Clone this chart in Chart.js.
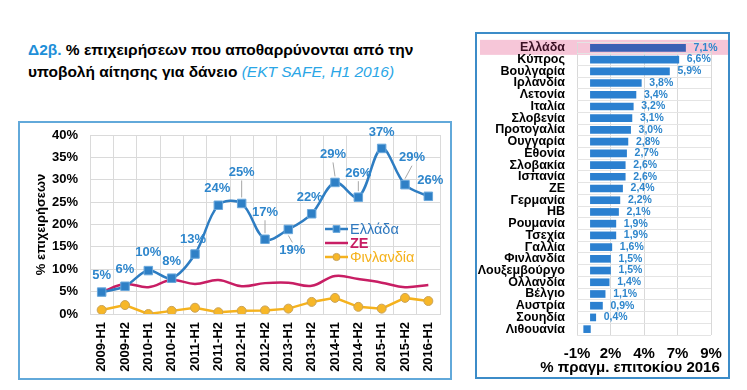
<!DOCTYPE html>
<html>
<head>
<meta charset="utf-8">
<script src="https://cdn.jsdelivr.net/npm/chart.js@4.4.1/dist/chart.umd.min.js"></script>
<style>
  body { margin: 0; background: #fff; font-family: "Liberation Sans", Arial, sans-serif; }
  #title { position: absolute; left: 28px; top: 39px; font-weight: bold; font-size: 15.5px; line-height: 22px; color: #000; white-space: nowrap; }
  #title .code { color: #1e8fd8; }
  #title .src { color: #2aa6e6; font-style: italic; font-weight: normal; }
  .box { position: absolute; box-sizing: border-box; border: 2px solid #62a9da; background: #fff; }
  #leftBox { left: 18px; top: 121px; width: 434px; height: 259px; }
  #rightBox { left: 475px; top: 32px; width: 255px; height: 347px; border-color: #3c8cc8; }
  .box canvas { position: absolute; left: 0; top: 0; }
</style>
</head>
<body>
<div id="title"><span class="code">Δ2β.</span> % επιχειρήσεων που αποθαρρύνονται από την<br>υποβολή αίτησης για δάνειο <span class="src">(EKT SAFE, H1 2016)</span></div>
<div class="box" id="leftBox"><canvas id="lineChart" width="430" height="255"></canvas></div>
<div class="box" id="rightBox"><canvas id="barChart" width="251" height="343"></canvas></div>

<script>
// Left chart data (% of firms discouraged from applying for a loan)
const periods = ['2009-H1', '2009-H2', '2010-H1', '2010-H2', '2011-H1', '2011-H2', '2012-H1', '2012-H2',
                 '2013-H1', '2013-H2', '2014-H1', '2014-H2', '2015-H1', '2015-H2', '2016-H1'];
const greece = [4.9, 6.2, 9.7, 8.0, 13.4, 24.3, 24.7, 16.7, 18.9, 22.4, 29.4, 26.1, 37.0, 28.9, 26.3];
const eurozone = [4.9, 6.7, 6.0, 7.6, 6.7, 7.6, 6.2, 6.9, 7.0, 6.3, 8.5, 7.8, 7.0, 6.0, 6.5];
const finland = [0.9, 2.0, 0.0, 0.7, 1.4, 0.4, 0.7, 0.8, 1.2, 2.7, 3.6, 1.6, 1.2, 3.6, 2.9];
const yTicks = { min: 0, max: 40, step: 5 };

// Right chart data (real interest rate 2016, %)
const countries = ['Ελλάδα', 'Κύπρος', 'Βουλγαρία', 'Ιρλανδία', 'Λετονία', 'Ιταλία', 'Σλοβενία', 'Προτογαλία',
                   'Ουγγαρία', 'Εθονία', 'Σλοβακία', 'Ισπανία', 'ΖΕ', 'Γερμανία', 'ΗΒ', 'Ρουμανία', 'Τσεχία',
                   'Γαλλία', 'Φινλανδία', 'Λουξεμβούργο', 'Ολλανδία', 'Βέλγιο', 'Αυστρία', 'Σουηδία', 'Λιθουανία'];
const rates = [7.1, 6.6, 5.9, 3.8, 3.4, 3.2, 3.1, 3.0, 2.8, 2.7, 2.6, 2.6, 2.4, 2.2, 2.1, 1.9, 1.9,
               1.6, 1.5, 1.5, 1.4, 1.1, 0.9, 0.4, -0.5];
const rateTicks = { min: -1, max: 9, step: 2.5 };

const FONT = "'Liberation Sans', Arial, sans-serif";
const BLUE = '#2e7dc2';
const LABEL_BLUE = '#2e86cc';
const RED = '#c81e64';
const GOLD = '#f5b21d';

// Greek decimal comma
function pct(v, digits) {
    return v.toFixed(digits).replace('.', ',') + '%';
}

// Stop the axis label overhang from shrinking the plot area
function noOverhang(scale) {
    scale.paddingTop = 0;
    scale.paddingBottom = 0;
    scale.paddingLeft = 0;
    scale.paddingRight = 0;
}

// Labels above the Greece points, with leader lines where they sit far away
const pointLabels = {
    id: 'pointLabels',
    afterDatasetsDraw(chart, args, opts) {
        const ctx = chart.ctx;
        const meta = chart.getDatasetMeta(0);
        ctx.save();
        ctx.font = opts.font;
        ctx.textAlign = 'center';
        ctx.textBaseline = 'middle';
        meta.data.forEach((pt, i) => {
            const off = opts.offsets[i];
            const x = pt.x + off[0];
            const y = pt.y + off[1];
            if (Math.abs(off[1]) > 20) {
                const dir = off[1] < 0 ? 1 : -1;
                ctx.strokeStyle = '#a6a6a6';
                ctx.lineWidth = 1;
                ctx.beginPath();
                ctx.moveTo(x, y + dir * 8);
                ctx.lineTo(pt.x, pt.y - dir * 6);
                ctx.stroke();
            }
            ctx.fillStyle = opts.color;
            ctx.fillText(Math.round(greece[i]) + '%', x, y);
        });
        ctx.restore();
    }
};

// Legend drawn inside the plot area
const insideLegend = {
    id: 'insideLegend',
    afterDraw(chart, args, opts) {
        const ctx = chart.ctx;
        const area = chart.chartArea;
        ctx.save();
        ctx.textBaseline = 'middle';
        ctx.textAlign = 'left';
        chart.data.datasets.forEach((ds, i) => {
            const x = area.left + opts.x;
            const y = area.top + opts.y + i * opts.spacing;
            ctx.strokeStyle = ds.borderColor;
            ctx.lineWidth = 2.5;
            ctx.beginPath();
            ctx.moveTo(x, y);
            ctx.lineTo(x + opts.lineWidth, y);
            ctx.stroke();
            if (ds.pointRadius > 0) {
                ctx.fillStyle = ds.pointBackgroundColor;
                ctx.strokeStyle = ds.pointBorderColor;
                ctx.lineWidth = ds.pointBorderWidth;
                Chart.helpers.drawPoint(ctx, {
                    pointStyle: ds.pointStyle,
                    radius: ds.pointRadius * opts.markerScale,
                    borderWidth: ds.pointBorderWidth
                }, x + opts.lineWidth / 2, y);
            }
            ctx.font = (ds.legendBold ? 'bold ' : '') + opts.fontSize + 'px ' + FONT;
            ctx.fillStyle = ds.legendColor || ds.borderColor;
            ctx.fillText(ds.label, x + opts.lineWidth + 2, y + 1);
        });
        ctx.restore();
    }
};

new Chart(document.getElementById('lineChart'), {
    type: 'line',
    data: {
        labels: periods,
        datasets: [{
            label: 'Ελλάδα',
            data: greece,
            borderColor: BLUE,
            borderWidth: 2.5,
            tension: 0.35,
            pointStyle: 'rect',
            pointRadius: 6,
            pointBackgroundColor: '#2f80c6',
            pointBorderColor: '#6aa8dc',
            pointBorderWidth: 1,
            legendColor: '#2f78be'
        }, {
            label: 'ΖΕ',
            data: eurozone,
            borderColor: RED,
            borderWidth: 2.5,
            tension: 0.4,
            pointRadius: 0,
            legendBold: true
        }, {
            label: 'Φινλανδία',
            data: finland,
            borderColor: GOLD,
            borderWidth: 2.5,
            tension: 0,
            pointStyle: 'circle',
            pointRadius: 4.5,
            pointBackgroundColor: '#f7b728',
            pointBorderColor: '#c9a35a',
            pointBorderWidth: 1
        }]
    },
    options: {
        responsive: false,
        animation: false,
        layout: { autoPadding: false, padding: { top: 12, right: 10, left: 0, bottom: 0 } },
        plugins: {
            legend: { display: false },
            tooltip: { enabled: false },
            pointLabels: {
                font: 'bold 13px ' + FONT,
                color: LABEL_BLUE,
                offsets: [[0, -17], [0, -17], [0, -18], [0, -17], [-2, -15], [-1, -17], [0, -31], [0, -27],
                          [4, 21], [-2, -16], [-2, -28], [0, -24], [0, -16], [7, -27], [2, -16]]
            },
            insideLegend: { x: 235, y: 94, spacing: 14, lineWidth: 23, fontSize: 14.5, markerScale: 0.8 }
        },
        scales: {
            x: {
                offset: true,
                grid: { offset: true, color: '#dadada', drawTicks: false },
                border: { color: '#dadada' },
                ticks: {
                    autoSkip: false, minRotation: 90, maxRotation: 90, padding: 8, color: '#000',
                    font: { family: FONT, size: 13, weight: 'bold' }
                },
                afterFit(scale) { noOverhang(scale); scale.height = 64; }
            },
            y: {
                min: yTicks.min,
                max: yTicks.max,
                grid: { color: '#dadada', drawTicks: false },
                border: { display: false },
                ticks: {
                    stepSize: yTicks.step, padding: 12, color: '#000',
                    font: { family: FONT, size: 13, weight: 'bold' },
                    callback: v => v + '%'
                },
                title: {
                    display: true, text: '% επιχειρήσεων', color: '#000',
                    font: { family: FONT, size: 13, weight: 'bold' },
                    padding: { top: 14, bottom: 0 }
                },
                afterFit(scale) { noOverhang(scale); scale.width = 70; }
            }
        }
    },
    plugins: [pointLabels, insideLegend]
});

// Pink band behind the Greece row
const highlightRow = {
    id: 'highlightRow',
    beforeDraw(chart, args, opts) {
        const ctx = chart.ctx;
        const yc = chart.scales.y.getPixelForValue(opts.index);
        ctx.save();
        ctx.fillStyle = opts.color;
        ctx.fillRect(opts.left, yc - 8, chart.width - opts.left, 15);
        ctx.restore();
    }
};

// Value labels at the end of each positive bar
const barValues = {
    id: 'barValues',
    afterDatasetsDraw(chart, args, opts) {
        const ctx = chart.ctx;
        const meta = chart.getDatasetMeta(0);
        ctx.save();
        ctx.font = opts.font;
        ctx.fillStyle = opts.color;
        ctx.textAlign = 'left';
        ctx.textBaseline = 'middle';
        meta.data.forEach((bar, i) => {
            if (rates[i] <= 0) return;
            ctx.fillText(pct(rates[i], 1), bar.x + 8, bar.y);
        });
        ctx.restore();
    }
};

// Axis caption under the tick labels (wider than the plot, so drawn here)
const axisCaption = {
    id: 'axisCaption',
    afterDraw(chart, args, opts) {
        const ctx = chart.ctx;
        ctx.save();
        ctx.font = opts.font;
        ctx.fillStyle = '#000';
        ctx.textAlign = 'center';
        ctx.textBaseline = 'middle';
        ctx.fillText(opts.text, opts.x, opts.y);
        ctx.restore();
    }
};

new Chart(document.getElementById('barChart'), {
    type: 'bar',
    data: {
        labels: countries,
        datasets: [{
            data: rates,
            backgroundColor: c => c.dataIndex === 0 ? '#3a60b4' : '#2b80d0',
            barThickness: 7
        }]
    },
    options: {
        indexAxis: 'y',
        responsive: false,
        animation: false,
        layout: { padding: { top: 8, right: 17, left: 0, bottom: 0 } },
        plugins: {
            legend: { display: false },
            tooltip: { enabled: false },
            highlightRow: { index: 0, left: 3, color: '#f6c6d8' },
            barValues: { font: 'bold 10.5px ' + FONT, color: LABEL_BLUE },
            axisCaption: { text: '% πραγμ. επιτοκίου 2016', font: 'bold 15px ' + FONT, x: 153, y: 334 }
        },
        scales: {
            x: {
                min: rateTicks.min,
                max: rateTicks.max,
                grid: { color: '#d9d9d9', drawTicks: false },
                border: { display: false },
                ticks: {
                    stepSize: rateTicks.step, padding: 10, color: '#000',
                    font: { family: FONT, size: 15, weight: 'bold' },
                    callback: v => Math.round(v) + '%'
                },
                afterFit(scale) { noOverhang(scale); scale.height = 42; }
            },
            y: {
                grid: { color: '#e4e4e4', drawTicks: false },
                border: { display: false },
                ticks: {
                    autoSkip: false, padding: 12,
                    color: c => c.index === 0 ? '#3a1024' : '#000',
                    font: { family: FONT, size: 12.5, weight: 'bold' }
                },
                afterFit(scale) { noOverhang(scale); scale.width = 100; }
            }
        }
    },
    plugins: [highlightRow, barValues, axisCaption]
});
</script>
</body>
</html>
